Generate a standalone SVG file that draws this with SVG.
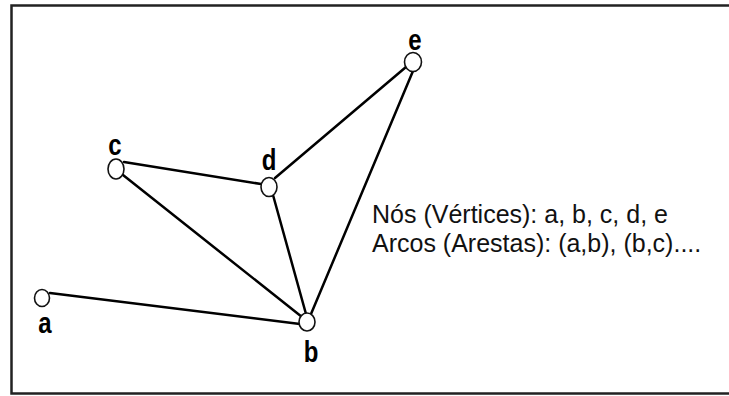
<svg xmlns="http://www.w3.org/2000/svg" width="729" height="396" viewBox="0 0 729 396">
<style>
.edge{stroke:#000;stroke-width:2.5;fill:none;stroke-linecap:round}
.node{fill:#fff;stroke:#111;stroke-width:1.6}
.lbl{font-family:"Liberation Sans",Arial,sans-serif;font-weight:bold;font-size:24px;fill:#000;text-anchor:middle}
.txt{font-family:"Liberation Sans",Arial,sans-serif;font-size:25px;fill:#111}
</style>
<rect x="0" y="0" width="729" height="396" fill="#fff"/>
<rect x="11.5" y="5.5" width="740" height="388" fill="none" stroke="#222" stroke-width="2.5"/>
<g id="connectors">
<line class="edge" x1="50" y1="293" x2="300" y2="324"/>
<line class="edge" x1="123" y1="175" x2="302" y2="317"/>
<line class="edge" x1="124" y1="162" x2="261" y2="184"/>
<line class="edge" x1="273" y1="195" x2="306" y2="314"/>
<line class="edge" x1="275" y1="178" x2="406" y2="67"/>
<line class="edge" x1="413" y1="71" x2="311" y2="314"/>
</g>
<g id="node-a"><ellipse class="node" cx="42" cy="298" rx="7.5" ry="8.5"/><text class="lbl" transform="translate(45,333) scale(1,1.25)">a</text></g>
<g id="node-b"><ellipse class="node" cx="307" cy="322" rx="8" ry="9"/><text class="lbl" transform="translate(311,362) scale(1,1.25)">b</text></g>
<g id="node-c"><ellipse class="node" cx="116" cy="169" rx="8" ry="10"/><text class="lbl" transform="translate(115,155) scale(1,1.25)">c</text></g>
<g id="node-d"><ellipse class="node" cx="269" cy="187" rx="8" ry="9.5"/><text class="lbl" transform="translate(269,170) scale(1,1.25)">d</text></g>
<g id="node-e"><ellipse class="node" cx="413" cy="62" rx="8.5" ry="9.5"/><text class="lbl" transform="translate(415,50) scale(1,1.25)">e</text></g>
<g id="caption">
<text class="txt" x="372" y="223">Nós (Vértices): a, b, c, d, e</text>
<text class="txt" x="372" y="252">Arcos (Arestas): (a,b), (b,c)....</text>
</g>
</svg>
